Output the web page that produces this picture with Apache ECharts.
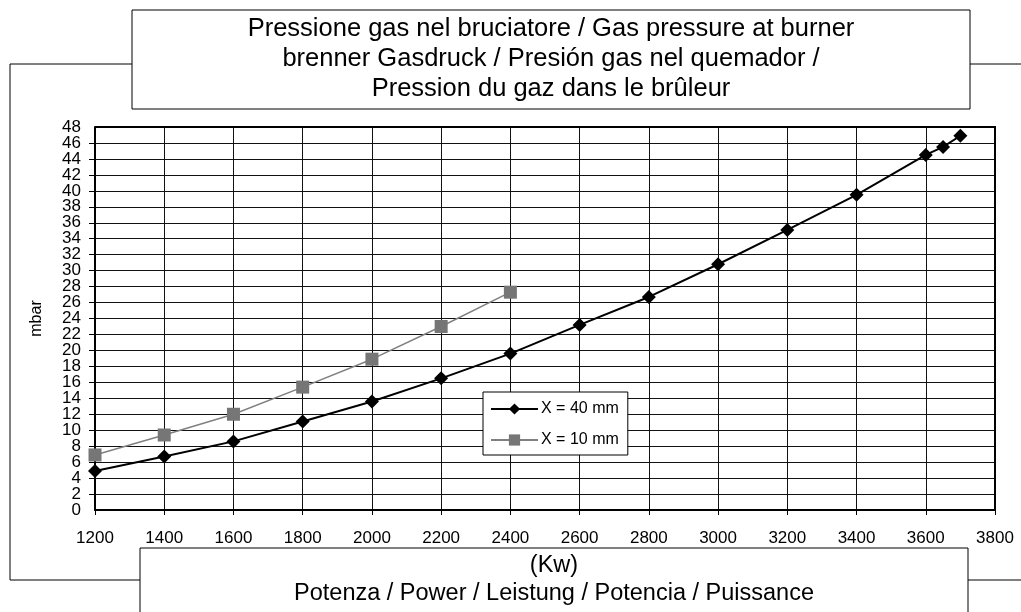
<!DOCTYPE html>
<html>
<head>
<meta charset="utf-8">
<script src="https://cdn.jsdelivr.net/npm/echarts@6/dist/echarts.min.js"></script>
<style>
  html, body { margin: 0; padding: 0; background: #fff; }
  #chart { width: 1021px; height: 612px; }
</style>
</head>
<body>
<div id="chart"></div>
<script>
// potenza (kW) / pressione (mbar)
const power40 = [1200, 1400, 1600, 1800, 2000, 2200, 2400, 2600, 2800, 3000, 3200, 3400, 3600, 3650, 3700];
const pressure40 = [4.9, 6.7, 8.6, 11.1, 13.6, 16.5, 19.6, 23.2, 26.7, 30.8, 35.1, 39.5, 44.5, 45.5, 46.9];
const power10 = [1200, 1400, 1600, 1800, 2000, 2200, 2400];
const pressure10 = [6.9, 9.4, 12.0, 15.4, 18.9, 23.0, 27.3];
const seriesNames = ['X = 40 mm', 'X = 10 mm'];
const titleLines = [
  'Pressione gas nel bruciatore / Gas pressure at burner',
  'brenner Gasdruck / Presión gas nel quemador /',
  'Pression du gaz dans le brûleur'
];
const xTitleLines = ['(Kw)', 'Potenza / Power / Leistung / Potencia / Puissance'];
const yMin = 0, yMax = 48, yStep = 2;

const font = 'Liberation Sans, Arial, sans-serif';
const chart = echarts.init(document.getElementById('chart'));

const yLabelStyle = { color: '#000', fontSize: 17, margin: 14, hideOverlap: false };

const option = {
  animation: false,
  textStyle: { fontFamily: font },
  grid: { left: 95, right: 26, top: 127, bottom: 102 },
  xAxis: {
    type: 'value',
    min: 1200,
    max: 3800,
    interval: 200,
    axisLine: { lineStyle: { color: '#000', width: 2 } },
    axisTick: { show: true, length: 5, lineStyle: { color: '#000' } },
    axisLabel: { color: '#000', fontSize: 17, margin: 20, formatter: v => String(v) },
    splitLine: { show: true, lineStyle: { color: '#111', width: 1 } }
  },
  yAxis: [
    {
      type: 'value',
      min: yMin,
      max: yMax,
      interval: yStep,
      name: 'mbar',
      nameLocation: 'middle',
      nameGap: 50,
      nameTextStyle: { color: '#000', fontSize: 16 },
      axisLine: { show: true, lineStyle: { color: '#000', width: 2 } },
      axisTick: { show: true, length: 6, lineStyle: { color: '#000' } },
      axisLabel: Object.assign({ showMinLabel: false, showMaxLabel: false }, yLabelStyle),
      splitLine: { show: true, lineStyle: { color: '#111', width: 1 } }
    },
    {
      // solo le etichette 0 e 48
      type: 'value',
      position: 'left',
      min: yMin,
      max: yMax,
      interval: yStep,
      axisLine: { show: false },
      axisTick: { show: false },
      splitLine: { show: false },
      axisLabel: Object.assign({
        showMinLabel: true,
        showMaxLabel: true,
        formatter: v => (v === yMin || v === yMax) ? String(v) : ''
      }, yLabelStyle)
    }
  ],
  legend: {
    orient: 'vertical',
    left: 483,
    top: 392,
    itemWidth: 47,
    itemHeight: 14,
    itemGap: 15,
    padding: [9, 9, 7, 7],
    backgroundColor: '#fff',
    borderColor: '#000',
    borderWidth: 1,
    borderRadius: 0,
    textStyle: { color: '#000', fontSize: 16, padding: [0, 0, 0, -2] },
    data: seriesNames
  },
  series: [
    {
      name: seriesNames[0],
      type: 'line',
      data: power40.map((p, i) => [p, pressure40[i]]),
      symbol: 'diamond',
      symbolSize: 14,
      lineStyle: { color: '#000', width: 2 },
      itemStyle: { color: '#000' },
      z: 3
    },
    {
      name: seriesNames[1],
      type: 'line',
      data: power10.map((p, i) => [p, pressure10[i]]),
      symbol: 'rect',
      symbolSize: 13,
      lineStyle: { color: '#808080', width: 1.5 },
      itemStyle: { color: '#767676' },
      z: 2
    }
  ],
  graphic: [
    // cornice esterna del grafico
    {
      type: 'polyline',
      shape: { points: [[1030, 64], [10, 64], [10, 580], [1030, 580]] },
      style: { stroke: '#000', lineWidth: 1, fill: null },
      z: 0
    },
    // bordo destro e superiore dell'area
    {
      type: 'polyline',
      shape: { points: [[95, 127], [995, 127], [995, 510]] },
      style: { stroke: '#000', lineWidth: 2, fill: null },
      z: 5
    },
    {
      type: 'rect',
      shape: { x: 132, y: 10, width: 838, height: 99 },
      style: { fill: '#fff', stroke: '#000', lineWidth: 1 },
      z: 10
    },
    {
      type: 'text',
      x: 551,
      y: 14,
      style: {
        text: titleLines.join('\n'),
        font: '25.5px ' + font,
        fill: '#000',
        align: 'center',
        lineHeight: 30
      },
      z: 11
    },
    {
      type: 'rect',
      shape: { x: 140, y: 548, width: 828, height: 80 },
      style: { fill: '#fff', stroke: '#000', lineWidth: 1 },
      z: 10
    },
    {
      type: 'text',
      x: 554,
      y: 552,
      style: {
        text: xTitleLines.join('\n'),
        font: '23.5px ' + font,
        fill: '#000',
        align: 'center',
        lineHeight: 28
      },
      z: 11
    }
  ]
};

chart.setOption(option);
</script>
</body>
</html>
